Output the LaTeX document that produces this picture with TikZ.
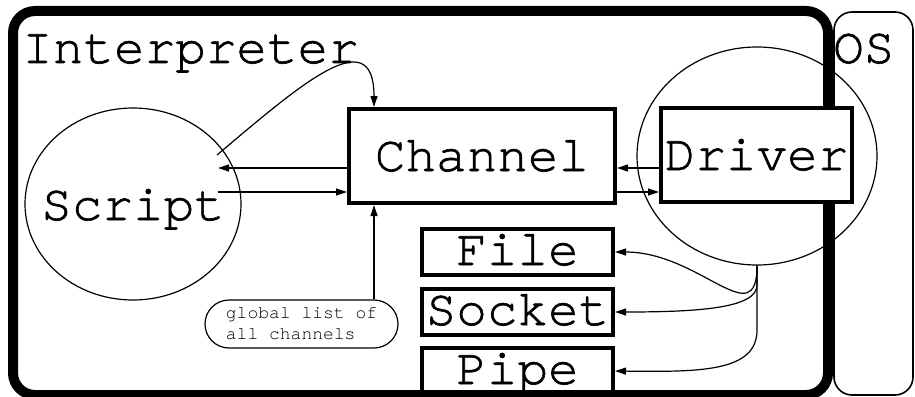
\documentclass[tikz,border=0pt]{standalone}
\usepackage{fontspec}
\newfontfamily\cur{texgyrecursor-regular.otf}
\newfontfamily\curb[FakeBold=1.2]{texgyrecursor-regular.otf}
\usetikzlibrary{arrows.meta,shapes.geometric}
\begin{document}
\begin{tikzpicture}[x=1pt,y=-1pt,
  big/.style={font=\curb\fontsize{51}{52}\selectfont},
  box/.style={draw,line width=4pt,inner sep=0pt,minimum width=191pt,minimum height=46pt,big,text height=26pt,text depth=0pt},
  bigbox/.style={draw,fill=white,line width=4pt,inner sep=0pt,minimum height=94pt,big,text height=30pt,text depth=0pt},
  thin/.style={line width=1.2pt},
  arr/.style={thin,-{Triangle[length=11pt,width=7pt]}},
]
\useasboundingbox (0,0) rectangle (915,396);
\begin{scope}
\clip (0,0) rectangle (915,396);
\draw[line width=10pt,rounded corners=22pt] (13,11) rectangle (828,395);
\draw[line width=1.6pt,rounded corners=18pt] (834,12) rectangle (913,395);
\end{scope}
\node[big,anchor=base west,inner sep=0pt] (interp) at (22,63) {Interpreter};
\node[big,anchor=base west,inner sep=0pt] (os) at (833,63) {OS};
\node[bigbox,minimum width=266pt] (chan) at (482,156) {Channel};
\node[draw,thin,ellipse,inner sep=0pt,minimum width=240pt,minimum height=218pt] (drvell) at (757,156) {};
\node[bigbox,minimum width=191pt] (drv) at (756.5,155) {Driver};
\node[draw,thin,ellipse,inner sep=0pt,minimum width=216pt,minimum height=192pt,big,text height=32pt,text depth=0pt] (script) at (133,204) {\makebox[0pt]{Script}};
\node[box] (file) at (517.5,252) {File};
\node[box] (sock) at (517.5,312) {Socket};
\node[box] (pipe) at (517.5,371) {Pipe};
\node[draw,thin,rounded corners=24pt,minimum width=193pt,minimum height=48pt,inner sep=0pt,align=left,font=\cur\fontsize{18}{21}\selectfont] (glob) at (301.5,324) {global list of\\all channels};
\coordinate (s1) at (218,168);
\coordinate (s2) at (218,192);
\coordinate (s3) at (217,155);
\coordinate (cx) at (374,0);
\draw[arr] (chan.west |- s1) -- (s1);
\draw[arr] (s2) -- (chan.west |- s2);
\draw[arr] (drv.west |- s1) -- (chan.east |- s1);
\draw[arr] (chan.east |- s2) -- (drv.west |- s2);
\draw[arr] (s3) .. controls (300,85) and (374,20) .. (chan.north -| cx);
\draw[arr] (glob.north -| cx) -- (chan.south -| cx);
\draw[arr] (drvell.south) .. controls (757,335) and (700,252) .. (file.east);
\draw[arr] (drvell.south) -- (757,285) .. controls (757,308) and (700,312) .. (sock.east);
\draw[arr] (drvell.south) -- (757,330) .. controls (757,372) and (700,372) .. (pipe.east);
\end{tikzpicture}
\end{document}
